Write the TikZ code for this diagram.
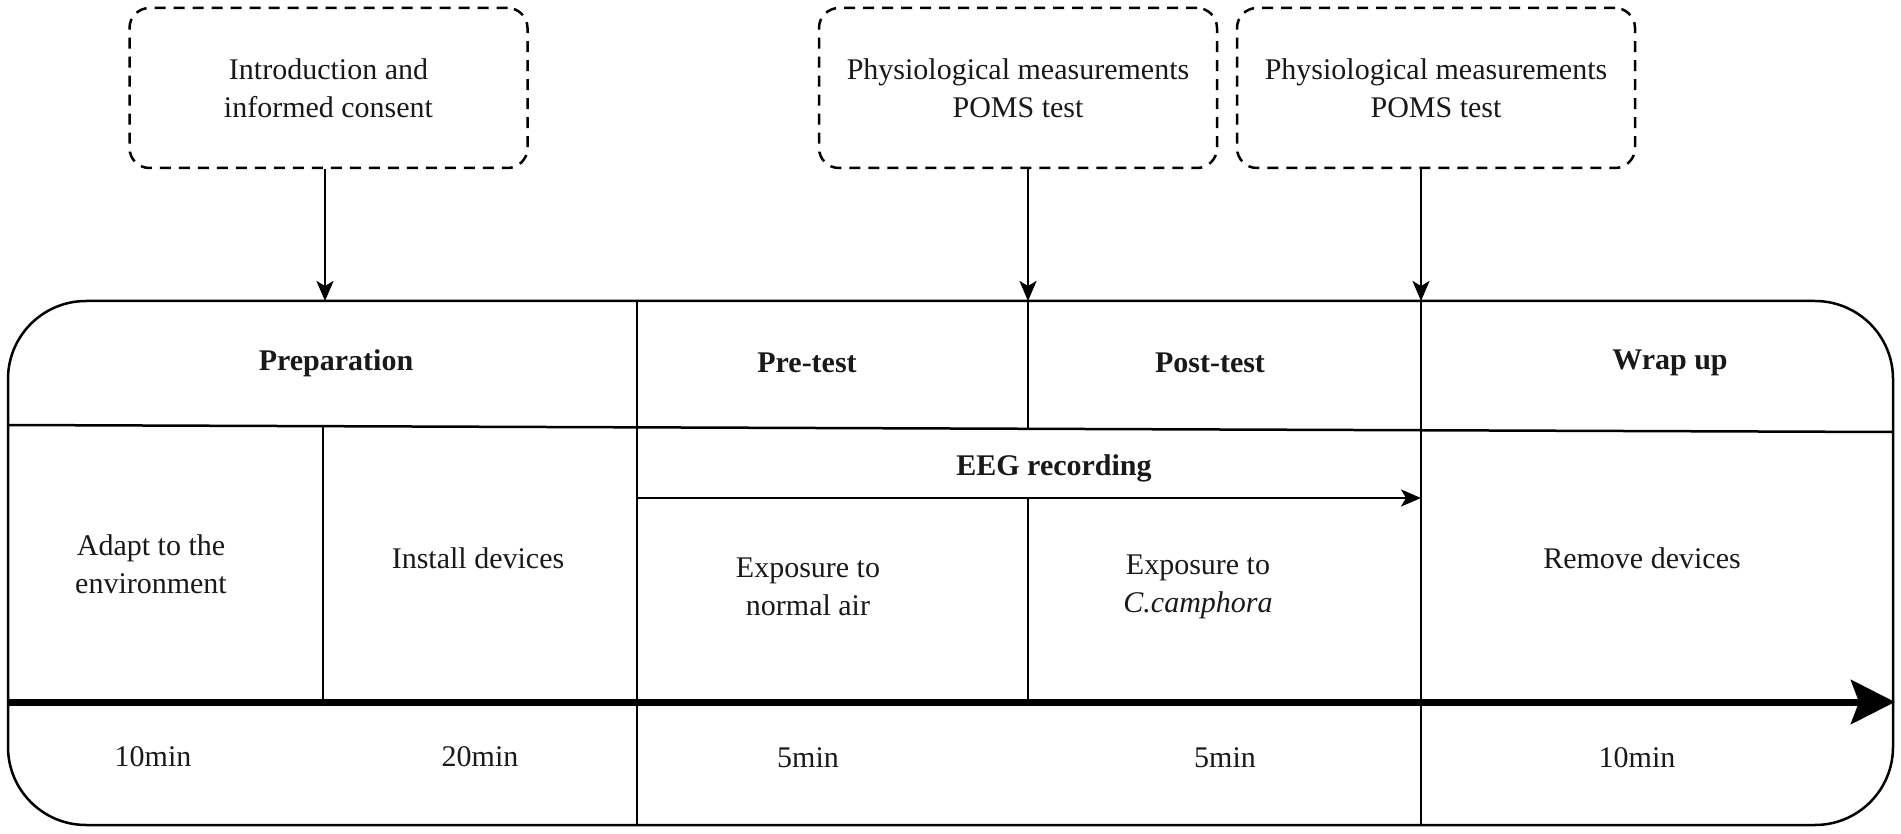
\documentclass[tikz,border=0pt]{standalone}
\usepackage{fontspec}
\setmainfont{Liberation Serif}
\usetikzlibrary{arrows.meta}
\begin{document}
\begin{tikzpicture}[x=1pt,y=-1pt,
  lbl/.style={font=\fontsize{30}{38}\selectfont, align=center, inner sep=0pt, text=black!90},
  hdr/.style={lbl, font=\fontsize{30}{38}\selectfont\bfseries},
  dbox/.style={draw, dash pattern=on 11pt off 8pt, line width=2.5pt, rounded corners=20pt,
    minimum width=398pt, minimum height=160pt, lbl},
  rule/.style={line width=2.5pt},
  conn/.style={line width=2.5pt, -{Stealth[length=20pt,width=17pt,inset=5pt]}},
]
\useasboundingbox (0,0) rectangle (1901,834);

% top dashed boxes
\node[dbox] (intro) at (328.5,88) {Introduction and\\informed consent};
\node[dbox] (phys1) at (1018,88) {Physiological measurements\\POMS test};
\node[dbox] (phys2) at (1436,88) {Physiological measurements\\POMS test};

% frame
\node[draw, line width=2.5pt, rounded corners=78pt, minimum width=1885pt,
      minimum height=524pt, inner sep=0pt] (frame) at (950.5,563) {};

% table rules
\draw[rule] (8,425) -- (1893,432);
\draw[rule] (637,301) -- (637,825);
\draw[rule] (1421,301) -- (1421,825);
\draw[rule] (1028,301) -- (1028,429);
\draw[rule] (1028,498) -- (1028,703);
\draw[rule] (323,426) -- (323,703);

% arrows from top boxes
\coordinate (a1) at (325,301);
\coordinate (a2) at (1028,301);
\coordinate (a3) at (1421,301);
\draw[conn] (intro.south -| a1) -- (a1);
\draw[conn] (phys1.south -| a2) -- (a2);
\draw[conn] (phys2.south -| a3) -- (a3);

% EEG arrow
\coordinate (e0) at (637,498);
\coordinate (e1) at (1421,498);
\draw[conn] (e0) -- (e1);
\node[hdr] (eeg) at (1054,468) {EEG recording};

% timeline
\coordinate (t0) at (8,702);
\coordinate (t1) at (1895,702);
\draw[line width=7pt, -{Stealth[length=44pt,width=44pt,inset=8pt]}] (t0) -- (t1);

% headers
\node[hdr] (prep) at (336,363) {Preparation};
\node[hdr] (pre) at (807,363) {Pre-test};
\node[hdr] (post) at (1210,363) {Post-test};
\node[hdr] (wrap) at (1670,363) {Wrap up};

% body texts
\node[lbl] (adapt) at (151,564) {Adapt to the\\environment};
\node[lbl] (install) at (478,558) {Install devices};
\node[lbl] (normal) at (808,587) {Exposure to\\normal air};
\node[lbl] (camph) at (1198,587) {Exposure to\\\textit{C.camphora}};
\node[lbl] (remove) at (1642,558) {Remove devices};

% durations
\node[lbl] (d1) at (153,757) {10min};
\node[lbl] (d2) at (480,757) {20min};
\node[lbl] (d3) at (808,758) {5min};
\node[lbl] (d4) at (1225,758) {5min};
\node[lbl] (d5) at (1637,758) {10min};
\end{tikzpicture}
\end{document}
